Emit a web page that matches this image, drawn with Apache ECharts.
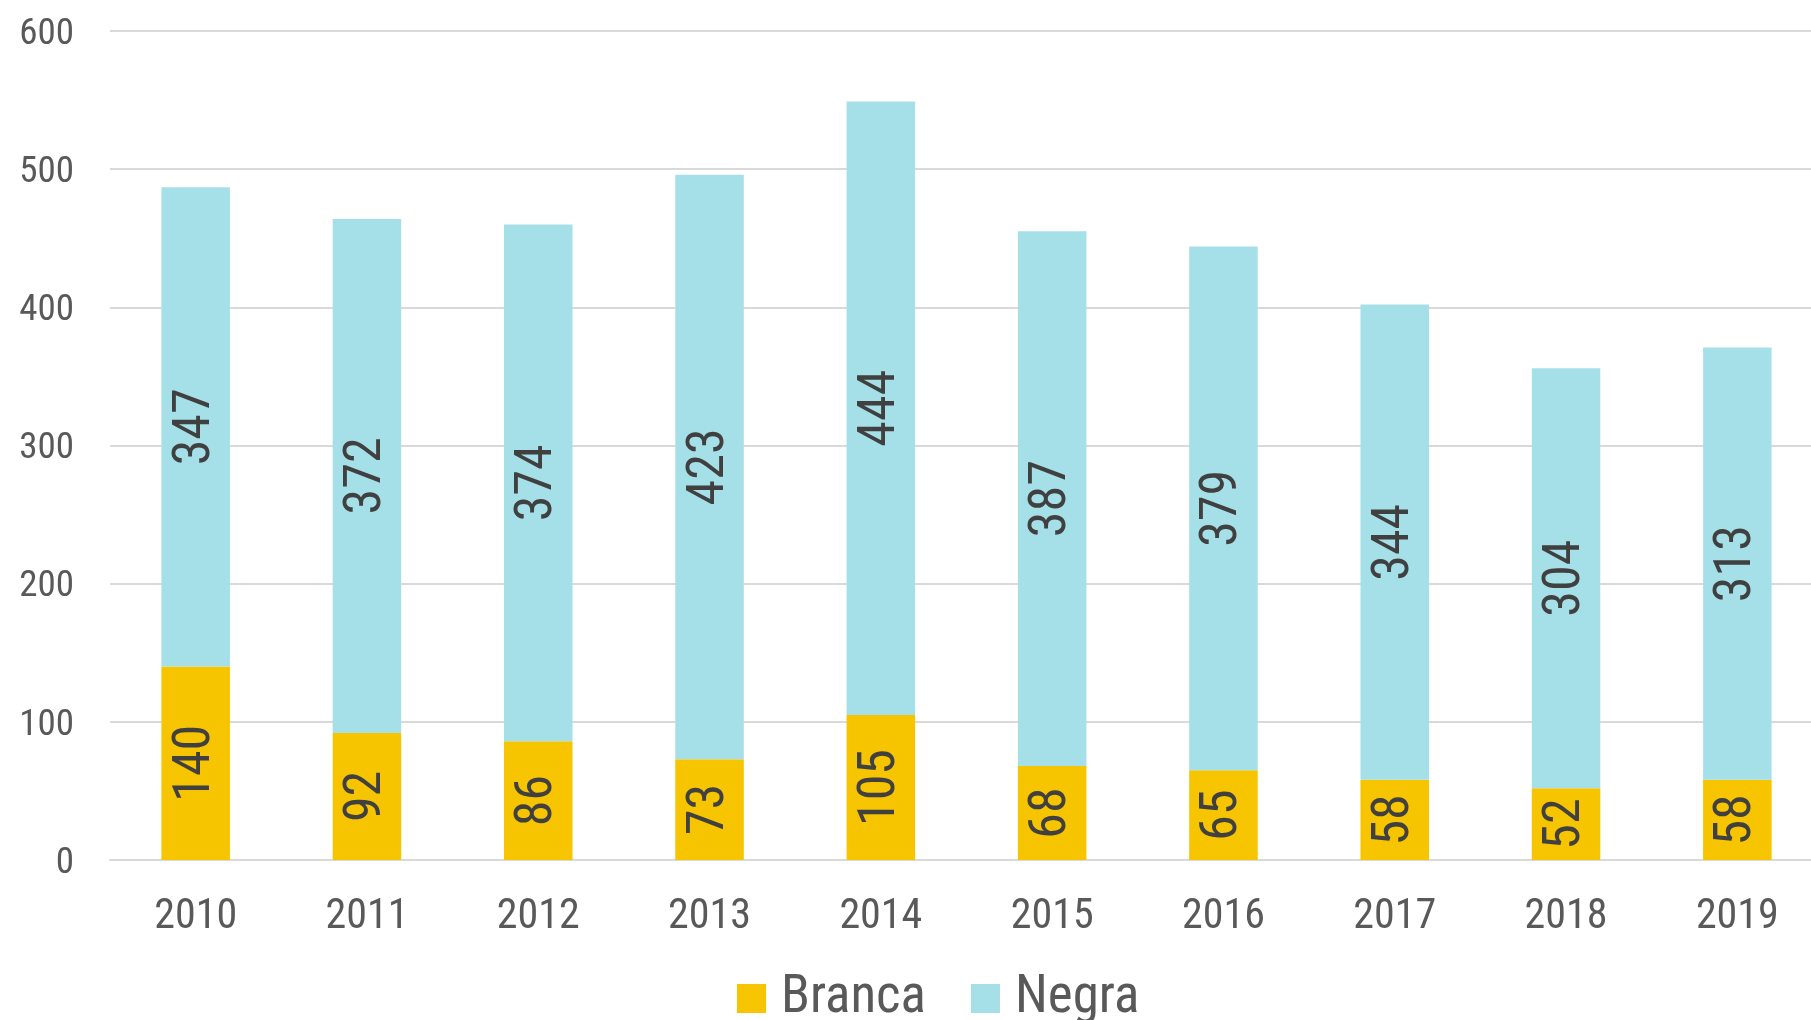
<!DOCTYPE html>
<html><head><meta charset="utf-8">
<script src="https://cdn.jsdelivr.net/npm/echarts@6/dist/echarts.min.js"></script>
<style>html,body{margin:0;padding:0;background:#fff}#c{width:1811px;height:1020px}</style>
</head><body><div id="c"></div>
<script>
const categories = ['2010','2011','2012','2013','2014','2015','2016','2017','2018','2019'];
const branca = [140, 92, 86, 73, 105, 68, 65, 58, 52, 58];
const negra = [347, 372, 374, 423, 444, 387, 379, 344, 304, 313];
const seriesNames = ['Branca', 'Negra'];
const FONT = "'Roboto Condensed','Liberation Sans Narrow','DejaVu Sans Condensed',Roboto,sans-serif";
const chart = echarts.init(document.getElementById('c'), null, {renderer:'canvas'});
const lbl = {show:true, rotate:90, position:'inside', color:'#404040', fontSize:52, fontFamily:FONT};
chart.setOption({
  animation:false,
  textStyle:{fontFamily:FONT},
  grid:{left:110, top:31, right:-12, bottom:160, containLabel:false, outerBoundsMode:'none'},
  legend:{bottom:-5, left:737, padding:0, icon:'rect', itemWidth:29, itemHeight:29, itemGap:45,
    textStyle:{fontSize:53, color:'#595959', fontFamily:FONT, padding:[0,0,0,10]},
    data:seriesNames},
  xAxis:{type:'category', data:categories,
    axisLine:{lineStyle:{color:'#d9d9d9', width:2}}, axisTick:{show:false},
    axisLabel:{color:'#595959', fontSize:42, margin:36, fontFamily:FONT}},
  yAxis:{type:'value', min:0, max:600, interval:100,
    axisLine:{show:false}, axisTick:{show:false},
    splitLine:{lineStyle:{color:'#d9d9d9', width:2}},
    axisLabel:{color:'#595959', fontSize:37, margin:36, fontFamily:FONT,
      formatter:'{v|{value}}', rich:{v:{color:'#595959', fontSize:37, fontFamily:FONT, padding:[7,0,0,0]}}}},
  series:[
    {name:seriesNames[0], type:'bar', stack:'t', data:branca, barWidth:'40%', itemStyle:{color:'#F7C400'}, label:lbl},
    {name:seriesNames[1], type:'bar', stack:'t', data:negra, barWidth:'40%', itemStyle:{color:'#A5E0E9'}, label:lbl}
  ]
});
</script></body></html>
